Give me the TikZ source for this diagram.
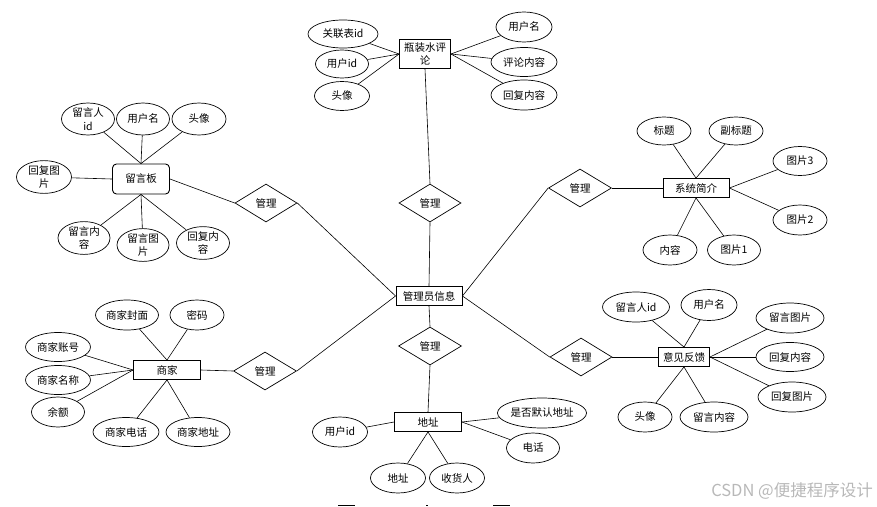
\documentclass[tikz,border=0pt]{standalone}
\usepackage{fontspec}
\newfontfamily\cjk{Noto Sans CJK SC}
\usetikzlibrary{shapes.geometric}
\begin{document}
\begin{tikzpicture}[x=1pt,y=-1pt,
  every node/.style={font=\cjk\fontsize{10.5}{13.5}\selectfont, inner sep=0pt, align=center},
  attr/.style={ellipse, draw, line width=0.7pt, minimum width=54pt, minimum height=29pt},
  ent/.style={rectangle, draw, line width=0.9pt, minimum width=66pt, minimum height=19pt},
  rel/.style={diamond, draw, line width=0.7pt, aspect=1.6, minimum width=62pt, minimum height=38pt},
  link/.style={draw, line width=0.6pt},
  frag/.style={draw, line width=0.8pt}
]
\useasboundingbox (0,0) rectangle (877,506);

% ---- central entity
\node[ent] (admin) at (429,296) {管理员信息};

% ---- 瓶装水评论
\node[ent, minimum width=51pt, minimum height=29pt] (water) at (425,54) {瓶装水评\\论};
\node[attr, minimum width=70pt, minimum height=28pt] (w1) at (343,34) {关联表id};
\node[attr, minimum width=53pt, minimum height=28pt] (w2) at (342,64) {用户id};
\node[attr, minimum width=55pt] (w3) at (342,96) {头像};
\node[attr, minimum width=56pt, minimum height=30pt] (w4) at (524,27) {用户名};
\node[attr, minimum width=66pt] (w5) at (524,62) {评论内容};
\node[attr, minimum width=66pt, minimum height=30pt] (w6) at (524,95) {回复内容};
\foreach \a in {w1,w2,w3} \path[link] (\a) -- (water.west);
\foreach \a in {w4,w5,w6} \path[link] (\a) -- (water.east);
\node[rel] (r2) at (430,203) {管理};
\path[link] (r2.north) -- (water.south);
\path[link] (r2.south) -- (admin.north);

% ---- 留言板
\node[ent, rounded corners=4pt, minimum width=57pt, minimum height=30pt] (board) at (141,179) {留言板};
\node[attr, minimum width=53pt, minimum height=32pt] (b1) at (88,119) {留言人\\id};
\node[attr, minimum width=53pt, minimum height=32pt] (b2) at (143,119) {用户名};
\node[attr, minimum width=54pt, minimum height=32pt] (b3) at (199,119) {头像};
\node[attr, minimum width=55pt, minimum height=29pt] (b4) at (44,177) {回复图\\片};
\node[attr, minimum width=52pt, minimum height=30pt] (b5) at (84,238) {留言内\\容};
\node[attr, minimum width=52pt, minimum height=29pt] (b6) at (143,245) {留言图\\片};
\node[attr, minimum width=53pt, minimum height=31pt] (b7) at (203,243) {回复内\\容};
\foreach \a in {b1,b2,b3} \path[link] (\a) -- (board.north);
\path[link] (b4) -- (board.west);
\foreach \a in {b5,b6,b7} \path[link] (\a) -- (board.south);
\node[rel] (r1) at (266,203) {管理};
\path[link] (board.east) -- (r1.west);
\path[link] (r1.east) -- (admin.west);

% ---- 系统简介
\node[ent] (sys) at (696,188) {系统简介};
\node[attr, minimum height=28pt] (s1) at (664,131) {标题};
\node[attr, minimum height=28pt] (s2) at (736,131) {副标题};
\node[attr] (s3) at (800,161) {图片3};
\node[attr, minimum height=30pt] (s4) at (800,220) {图片2};
\node[attr, minimum height=30pt] (s5) at (670,250) {内容};
\node[attr, minimum width=53pt, minimum height=30pt] (s6) at (734,250) {图片1};
\foreach \a in {s1,s2} \path[link] (\a) -- (sys.north);
\foreach \a in {s3,s4} \path[link] (\a) -- (sys.east);
\foreach \a in {s5,s6} \path[link] (\a) -- (sys.south);
\node[rel, minimum width=63pt] (r3) at (580,188) {管理};
\path[link] (r3.west) -- (admin.east);
\path[link] (r3.east) -- (sys.west);

% ---- 商家
\node[ent, minimum width=67pt] (shop) at (167,370) {商家};
\node[attr, minimum width=63pt, minimum height=30pt] (m1) at (127,315) {商家封面};
\node[attr, minimum height=30pt] (m2) at (197,315) {密码};
\node[attr, minimum width=65pt] (m3) at (58,347) {商家账号};
\node[attr, minimum width=65pt] (m4) at (58,380) {商家名称};
\node[attr, minimum width=53pt, minimum height=30pt] (m5) at (58,412) {余额};
\node[attr, minimum width=66pt] (m6) at (126,432) {商家电话};
\node[attr, minimum width=64pt] (m7) at (198,432) {商家地址};
\foreach \a in {m1,m2} \path[link] (\a) -- (shop.north);
\foreach \a in {m3,m4,m5} \path[link] (\a) -- (shop.west);
\foreach \a in {m6,m7} \path[link] (\a) -- (shop.south);
\node[rel, minimum width=63pt] (r4) at (265,371) {管理};
\path[link] (shop.east) -- (r4.west);
\path[link] (r4.east) -- (admin.west);

% ---- 意见反馈
\node[ent, minimum width=51pt] (fb) at (684,357) {意见反馈};
\node[attr, minimum width=67pt, minimum height=30pt] (f1) at (636,307) {留言人id};
\node[attr, minimum width=56pt, minimum height=31pt] (f2) at (709,305) {用户名};
\node[attr, minimum width=68pt, minimum height=30pt] (f3) at (790,318) {留言图片};
\node[attr, minimum width=68pt] (f4) at (790,357) {回复内容};
\node[attr, minimum width=68pt, minimum height=30pt] (f5) at (792,397) {回复图片};
\node[attr, minimum height=30pt] (f6) at (645,417) {头像};
\node[attr, minimum width=68pt, minimum height=30pt] (f7) at (714,417) {留言内容};
\foreach \a in {f1,f2} \path[link] (\a) -- (fb.north);
\foreach \a in {f3,f4,f5} \path[link] (\a) -- (fb.east);
\foreach \a in {f6,f7} \path[link] (\a) -- (fb.south);
\node[rel] (r5) at (581,357) {管理};
\path[link] (r5.west) -- (admin.east);
\path[link] (r5.east) -- (fb.west);

% ---- 地址
\node[ent, minimum width=67pt] (addr) at (428,422) {地址};
\node[attr, minimum width=87pt, minimum height=30pt] (a1) at (542,413) {是否默认地址};
\node[attr, minimum width=53pt, minimum height=30pt] (a2) at (533,448) {电话};
\node[attr, minimum width=55pt, minimum height=30pt] (a3) at (340,432) {用户id};
\node[attr, minimum width=55pt, minimum height=30pt] (a4) at (398,478) {地址};
\node[attr, minimum width=55pt, minimum height=30pt] (a5) at (457,478) {收货人};
\foreach \a in {a1,a2} \path[link] (\a) -- (addr.east);
\path[link] (a3) -- (addr.west);
\foreach \a in {a4,a5} \path[link] (\a) -- (addr.south);
\node[rel, minimum width=63pt] (r6) at (430,346) {管理};
\path[link] (r6.north) -- (admin.south);
\path[link] (r6.south) -- (addr.north);

% ---- cut-off fragments at the bottom edge
\coordinate (g1a) at (338,505.5); \coordinate (g1b) at (355,505.5);
\coordinate (g2a) at (426,505.5); \coordinate (g2b) at (428,505.5);
\coordinate (g3a) at (493,505.5); \coordinate (g3b) at (510,505.5);
\path[frag] (g1a) -- (g1b);
\path[frag] (g2a) -- (g2b);
\path[frag] (g3a) -- (g3b);

% ---- watermark
\node[font=\cjk\fontsize{16.5}{18}\selectfont, text=black!28] (wm) at (792,491) {CSDN @便捷程序设计};
\end{tikzpicture}
\end{document}
